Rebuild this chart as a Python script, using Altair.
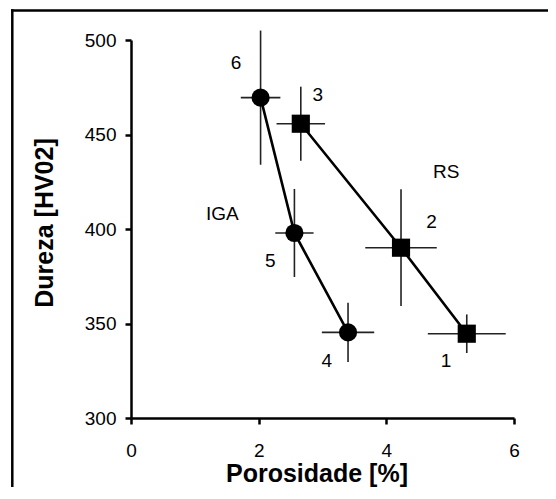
import altair as alt
import pandas as pd

# ---- data ----
series = ["IGA", "IGA", "IGA", "RS", "RS", "RS"]
labels = ["4", "5", "6", "1", "2", "3"]
porosidade = [3.40, 2.56, 2.03, 5.26, 4.23, 2.66]
dureza = [345.3, 397.9, 469.5, 344.6, 390.1, 455.7]
por_err = [0.41, 0.30, 0.31, 0.61, 0.56, 0.38]
dur_err = [15.7, 23.3, 35.5, 10.2, 30.9, 19.6]
order = [1, 2, 3, 1, 2, 3]

# annotation text positions (data units)
ann_text = ["6", "3", "IGA", "5", "2", "4", "1", "RS"]
ann_x = [1.645, 2.925, 1.43, 2.18, 4.71, 3.066, 4.935, 4.937]
ann_y = [487.7, 470.9, 407.8, 383.1, 403.5, 330.3, 330.3, 430.3]

x_ticks = [0, 2, 4, 6]
y_ticks = [300, 350, 400, 450, 500]

FONT = "Liberation Sans"

df = pd.DataFrame({
    "series": series, "label": labels, "por": porosidade, "dur": dureza,
    "por_lo": [p - e for p, e in zip(porosidade, por_err)],
    "por_hi": [p + e for p, e in zip(porosidade, por_err)],
    "dur_lo": [d - e for d, e in zip(dureza, dur_err)],
    "dur_hi": [d + e for d, e in zip(dureza, dur_err)],
    "order": order,
})
ann = pd.DataFrame({"text": ann_text, "x": ann_x, "y": ann_y})

xscale = alt.Scale(domain=[0, 6], nice=False, zero=False)
yscale = alt.Scale(domain=[300, 500], nice=False, zero=False)

xaxis = alt.Axis(values=x_ticks, title="Porosidade [%]", format="d",
                 labelPadding=17, labelFlush=False, titleX=185.5, titleY=63,
                 titleBaseline="alphabetic")
yaxis = alt.Axis(values=y_ticks, title="Dureza [HV02]", format="d",
                 labelPadding=9, labelFlush=False, titleX=-74, titleY=182.5)

base = alt.Chart(df)

err_v = base.mark_rule(color="#222222", strokeWidth=1.6, clip=False).encode(
    x=alt.X("por:Q", scale=xscale, axis=xaxis),
    y=alt.Y("dur_lo:Q", scale=yscale, axis=yaxis),
    y2="dur_hi:Q",
)
err_h = base.mark_rule(color="#222222", strokeWidth=1.6, clip=False).encode(
    x=alt.X("por_lo:Q", scale=xscale),
    x2="por_hi:Q",
    y=alt.Y("dur:Q", scale=yscale),
)
lines = base.mark_line(color="black", strokeWidth=2.6).encode(
    x=alt.X("por:Q", scale=xscale),
    y=alt.Y("dur:Q", scale=yscale),
    detail="series:N",
    order="order:Q",
)
points = base.mark_point(filled=True, color="black", opacity=1, size=330).encode(
    x=alt.X("por:Q", scale=xscale),
    y=alt.Y("dur:Q", scale=yscale),
    shape=alt.Shape("series:N", scale=alt.Scale(domain=["IGA", "RS"], range=["circle", "square"]), legend=None),
)
texts = alt.Chart(ann).mark_text(font=FONT, fontSize=19, color="black",
                                 align="center", baseline="middle").encode(
    x=alt.X("x:Q", scale=xscale),
    y=alt.Y("y:Q", scale=yscale),
    text="text:N",
)
one = pd.DataFrame({"k": [0]})
frame_top = alt.Chart(one).mark_rule(color="black", strokeWidth=2.5, clip=False).encode(
    x=alt.value(-120), x2=alt.value(440), y=alt.value(-29.5)
)
frame_left = alt.Chart(one).mark_rule(color="black", strokeWidth=2.5, clip=False).encode(
    x=alt.value(-118.7), y=alt.value(-30.7), y2=alt.value(480)
)

chart = alt.layer(frame_top, frame_left, err_v, err_h, lines, points, texts).properties(
    width=383, height=378,
    padding={"left": 123, "top": 32, "right": 34, "bottom": 69},
    autosize=alt.AutoSizeParams(type="none"),
    background="white",
).configure_view(strokeWidth=0).configure_axis(
    grid=False, domainColor="black", domainWidth=2.5, tickColor="black",
    tickWidth=2.5, tickSize=6, labelFont=FONT, labelFontSize=19,
    labelColor="black", titleFont=FONT, titleFontSize=25,
    titleFontWeight="bold", titleColor="black",
)

chart.save("out.html", embed_options={"renderer": "svg", "actions": False})
